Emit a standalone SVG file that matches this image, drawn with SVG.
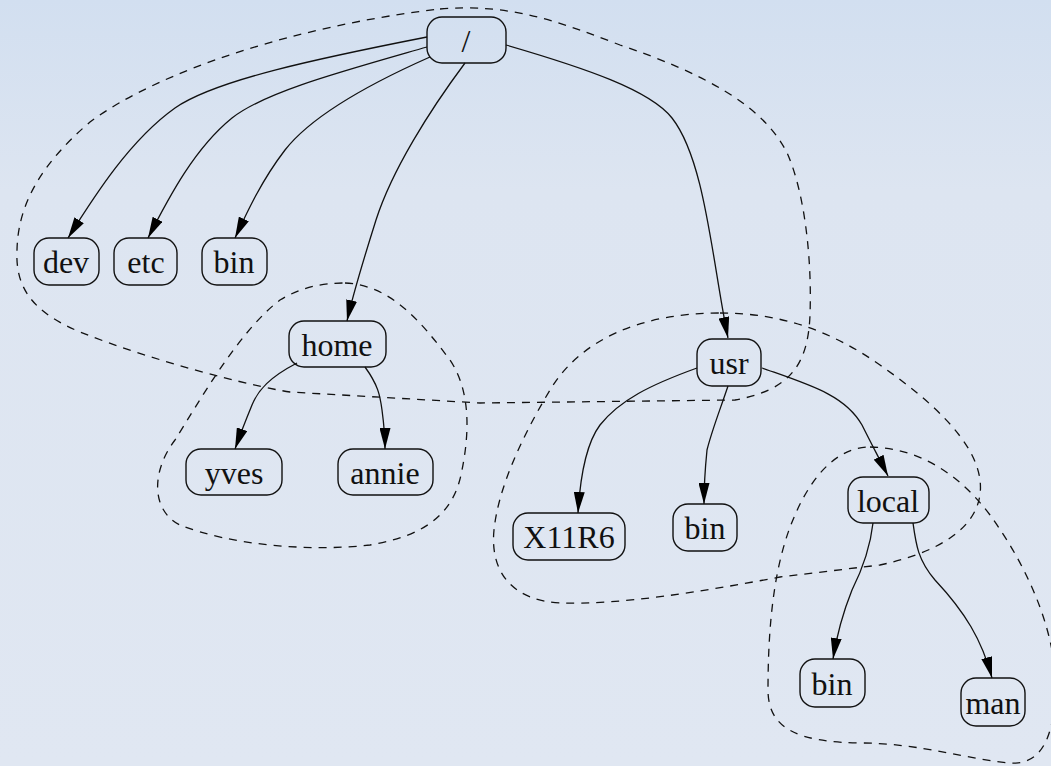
<svg xmlns="http://www.w3.org/2000/svg" width="1051" height="766" viewBox="0 0 1051 766">
<defs>
<linearGradient id="bg" x1="0" y1="0" x2="0" y2="1">
<stop offset="0" stop-color="#d2dff0"/>
<stop offset="0.25" stop-color="#dde5f1"/>
<stop offset="1" stop-color="#e0e7f2"/>
</linearGradient>
<marker id="ah" viewBox="0 0 21 11" refX="21" refY="5.5" markerWidth="21" markerHeight="11" markerUnits="userSpaceOnUse" orient="auto">
<path d="M0,0 L21,5.5 L0,11 z" fill="#000"/>
</marker>
<style>
.n rect{fill:none;stroke:#111;stroke-width:1.4}
.n text{font-family:"Liberation Serif","Times New Roman",serif;font-size:32px;fill:#111;text-anchor:middle}
.e path{fill:none;stroke:#111;stroke-width:1.3;marker-end:url(#ah)}
.c path{fill:none;stroke:#111;stroke-width:1.3;stroke-dasharray:8 7}
</style>
</defs>
<rect x="0" y="0" width="1051" height="766" fill="url(#bg)"/>
<g id="clusters" class="c">
<path d="M440,9 C510,3 560,22 620,45 C700,72 765,105 788,155 C805,195 812,260 810,315 C808,365 790,390 735,400 L480,403 L290,392 C250,386 150,360 80,332 C35,313 15,290 17,250 C18,205 40,165 90,122 C160,70 300,25 440,9 Z"/>
<path d="M345,283 C390,285 420,320 450,360 C470,390 470,430 462,470 C455,510 430,535 370,545 C310,552 230,545 180,525 C150,510 152,470 175,440 C200,400 240,330 280,300 C300,288 320,283 345,283 Z"/>
<path d="M720,313 C780,313 830,330 880,365 C930,400 975,440 980,480 C985,520 950,550 880,565 L780,577 C700,592 620,605 560,603 C510,600 490,570 494,530 C498,490 520,440 550,390 C580,340 640,313 720,313 Z"/>
<path d="M870,447 C920,448 960,475 990,515 C1030,570 1060,640 1055,700 C1052,740 1040,765 1010,763 C970,760 920,743 860,743 C800,742 768,730 768,690 C768,620 775,560 795,515 C810,480 835,447 870,447 Z"/>
</g>
<g id="edges" class="e">
<path d="M427,37 C320,58 215,80 175,108 C130,140 95,195 68,238"/>
<path d="M427,47 C340,72 265,92 232,118 C195,148 170,195 148,238"/>
<path d="M430,57 C360,88 310,118 285,150 C262,180 248,210 235,238"/>
<path d="M465,63 C430,110 392,170 376,220 C364,258 354,290 347,321"/>
<path d="M506,45 C585,68 650,90 672,118 C705,160 712,260 728,338"/>
<path d="M297,363 C270,377 258,390 252,405 C245,422 240,435 235,449"/>
<path d="M365,367 C378,385 380,395 382,410 C384,425 385,438 385,449"/>
<path d="M697,368 C650,385 620,400 600,425 C585,445 580,480 578,513"/>
<path d="M728,386 C720,410 712,430 707,450 C705,470 704,490 704,504"/>
<path d="M762,368 C810,385 845,395 862,425 C872,445 880,460 888,476"/>
<path d="M873,523 C870,550 862,570 852,590 C842,615 836,640 833,659"/>
<path d="M913,523 C916,545 918,560 935,580 C965,612 982,640 992,678"/>
</g>
<g id="n_root" class="n"><rect x="427" y="17" width="79" height="46" rx="15"/><text x="466" y="52">/</text></g>
<g id="n_dev" class="n"><rect x="34" y="238" width="65" height="47" rx="15"/><text x="66" y="273">dev</text></g>
<g id="n_etc" class="n"><rect x="114" y="238" width="63" height="47" rx="15"/><text x="146" y="273">etc</text></g>
<g id="n_bin" class="n"><rect x="202" y="238" width="65" height="47" rx="15"/><text x="234" y="273">bin</text></g>
<g id="n_home" class="n"><rect x="289" y="321" width="97" height="46" rx="15"/><text x="337" y="356">home</text></g>
<g id="n_yves" class="n"><rect x="186" y="449" width="96" height="46" rx="15"/><text x="234" y="484">yves</text></g>
<g id="n_annie" class="n"><rect x="338" y="449" width="95" height="46" rx="15"/><text x="385" y="484">annie</text></g>
<g id="n_usr" class="n"><rect x="697" y="339" width="64" height="47" rx="15"/><text x="729" y="374">usr</text></g>
<g id="n_x11r6" class="n"><rect x="513" y="513" width="112" height="47" rx="15"/><text x="569" y="548">X11R6</text></g>
<g id="n_usrbin" class="n"><rect x="673" y="504" width="64" height="47" rx="15"/><text x="705" y="539">bin</text></g>
<g id="n_local" class="n"><rect x="848" y="477" width="81" height="46" rx="15"/><text x="888" y="512">local</text></g>
<g id="n_localbin" class="n"><rect x="800" y="659" width="65" height="48" rx="15"/><text x="832" y="695">bin</text></g>
<g id="n_man" class="n"><rect x="961" y="678" width="64" height="48" rx="15"/><text x="993" y="714">man</text></g>
</svg>
